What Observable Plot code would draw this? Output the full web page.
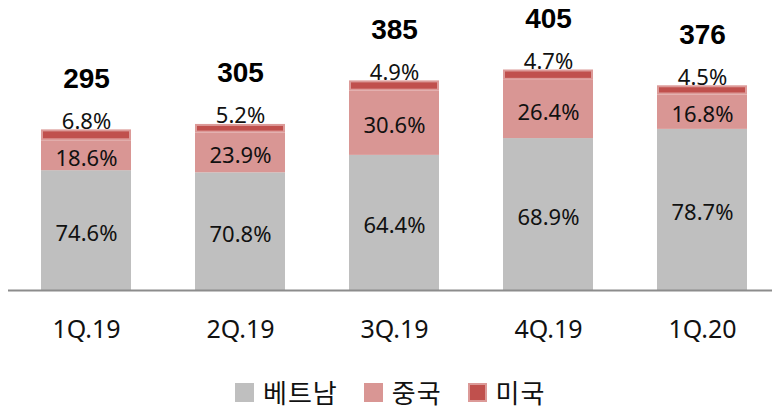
<!DOCTYPE html>
<html>
<head>
<meta charset="utf-8">
<script src="https://cdn.jsdelivr.net/npm/d3@7"></script>
<script src="https://cdn.jsdelivr.net/npm/@observablehq/plot@0.6"></script>
<style>
  html, body { margin: 0; padding: 0; background: #fff; }
  #wrap { width: 772px; height: 412px; position: relative; }
  #legend { position: absolute; left: 235px; top: 376px; height: 32px; display: flex; align-items: center;
    font-family: "Noto Sans CJK KR", "Noto Sans", sans-serif; font-size: 26px; color: #111; }
  .item { display: flex; align-items: center; margin-right: 26px; }
  .item span { display: inline-block; line-height: 32px; height: 32px; letter-spacing: 1px; }
  .sw { width: 19px; height: 19px; margin-right: 9px; box-sizing: border-box; }
</style>
</head>
<body>
<div id="wrap">
  <div id="chart"></div>
  <div id="legend"></div>
</div>
<script>
const categories = ["1Q.19", "2Q.19", "3Q.19", "4Q.19", "1Q.20"];
const totals = [295, 305, 385, 405, 376];
const vietnamPct = [74.6, 70.8, 64.4, 68.9, 78.7];
const chinaPct = [18.6, 23.9, 30.6, 26.4, 16.8];
const usPct = [6.8, 5.2, 4.9, 4.7, 4.5];
const seriesNames = ["베트남", "중국", "미국"];
const seriesColors = ["#bfbfbf", "#d99694", "#c0504d"];

// build stacked rows (values derived from totals × shares)
const rows = [];
categories.forEach((c, i) => {
  const pcts = [vietnamPct[i], chinaPct[i], usPct[i]];
  const sum = d3.sum(pcts);
  let acc = 0;
  pcts.forEach((p, j) => {
    const v = totals[i] * p / sum;
    rows.push({cat: c, series: seriesNames[j], pct: p, y1: acc, y2: acc + v, total: totals[i]});
    acc += v;
  });
});
const totalRows = categories.map((c, i) => ({cat: c, total: totals[i]}));
const inner = rows.filter(d => d.series !== "미국");
const us = rows.filter(d => d.series === "미국");

const font = '"Noto Sans", "Noto Sans CJK KR", sans-serif';

const chart = Plot.plot({
  width: 772,
  height: 370,
  marginLeft: 8,
  marginRight: 0,
  marginTop: 0,
  marginBottom: 80,
  style: {fontFamily: font, background: "transparent"},
  x: {domain: categories, range: [8, 780], paddingInner: 0.417, paddingOuter: 0.2085, label: null},
  y: {domain: [0, 450], range: [290, 45], axis: null},
  color: {domain: seriesNames, range: seriesColors},
  marks: [
    Plot.barY(inner, {x: "cat", y1: "y1", y2: "y2", fill: "series"}),
    Plot.barY(us, {x: "cat", y1: "y1", y2: "y2", fill: "series", stroke: "#dc9a98", strokeWidth: 2, inset: 1}),
    Plot.ruleY([0], {stroke: "#8c8c8c", strokeWidth: 2}),
    Plot.text(inner, {x: "cat", y: d => (d.y1 + d.y2) / 2, text: d => d.pct.toFixed(1) + "%",
      fontSize: 22, fill: "#111", dy: 3}),
    Plot.text(us, {x: "cat", y: "y2", text: d => d.pct.toFixed(1) + "%",
      fontSize: 22, fill: "#111", lineAnchor: "bottom", dy: -1}),
    Plot.text(totalRows, {x: "cat", y: "total", text: d => String(d.total),
      fontSize: 28, fontWeight: "bold", fill: "#000", lineAnchor: "bottom", dy: -42,
      fontFamily: '"Liberation Sans", Arial, sans-serif'}),
    Plot.axisX({tickSize: 0, tickPadding: 30, fontSize: 25, fill: "#111", label: null,
      style: {letterSpacing: "1px"}})
  ]
});
document.getElementById("chart").appendChild(chart);

const legend = document.getElementById("legend");
seriesNames.forEach((n, i) => {
  const it = document.createElement("div");
  it.className = "item";
  const sw = document.createElement("div");
  sw.className = "sw";
  sw.style.background = seriesColors[i];
  if (n === "미국") sw.style.border = "2px solid #dc9a98";
  const t = document.createElement("span");
  t.textContent = n;
  it.appendChild(sw); it.appendChild(t);
  legend.appendChild(it);
});
</script>
</body>
</html>
